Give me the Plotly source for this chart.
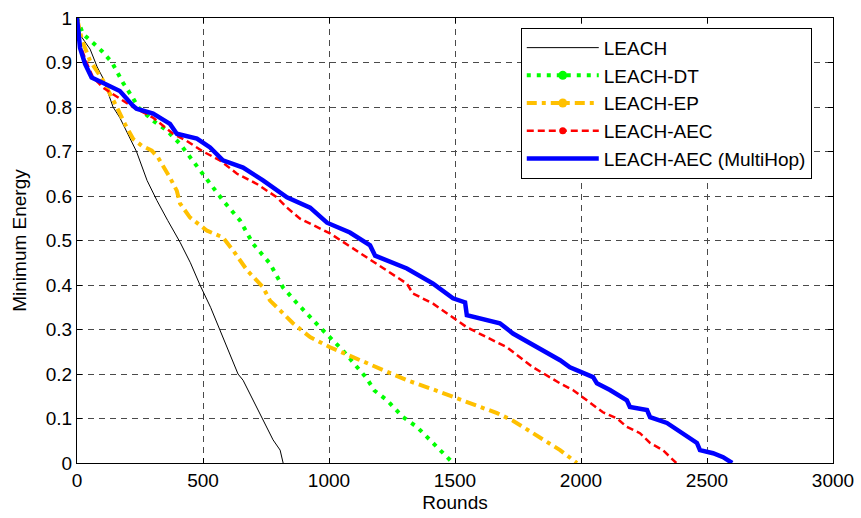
import plotly.graph_objects as go

# ---------------- data ----------------
leach_x = [0, 15, 52, 80, 103, 143, 170, 210, 236, 278, 317, 360, 409, 450, 488, 530,
           567, 600, 639, 659, 700, 734, 760, 778, 806, 817, 818]
leach_y = [1.0, 0.96, 0.93, 0.89, 0.865, 0.80, 0.776, 0.73, 0.70, 0.635, 0.59, 0.545,
           0.496, 0.45, 0.40, 0.35, 0.298, 0.255, 0.20, 0.186, 0.14, 0.103, 0.075,
           0.052, 0.029, 0.007, 0.0]

dt_x = [0, 24, 64, 98, 139, 183, 222, 242, 302, 357, 409, 460, 516, 579, 647, 698, 766,
        817, 873, 964, 1004, 1055, 1150, 1180, 1230, 1294, 1349, 1401, 1452, 1492]
dt_y = [1.0, 0.964, 0.944, 0.926, 0.90, 0.854, 0.82, 0.80, 0.769, 0.747, 0.717, 0.68,
        0.637, 0.59, 0.545, 0.493, 0.448, 0.395, 0.359, 0.305, 0.283, 0.253, 0.19,
        0.163, 0.141, 0.103, 0.081, 0.052, 0.025, 0.0]

ep_x = [0, 20, 52, 104, 158, 190, 223, 257, 297, 322, 369, 396, 409, 448, 516, 579, 619,
        675, 738, 766, 806, 857, 925, 1004, 1095, 1190, 1309, 1400, 1492, 1580, 1667,
        1730, 1810, 1870, 1917, 1984]
ep_y = [1.0, 0.95, 0.904, 0.859, 0.80, 0.762, 0.728, 0.713, 0.702, 0.686, 0.641, 0.612,
        0.583, 0.552, 0.522, 0.507, 0.478, 0.433, 0.395, 0.365, 0.343, 0.314, 0.283,
        0.26, 0.238, 0.215, 0.186, 0.168, 0.148, 0.13, 0.112, 0.095, 0.067, 0.048,
        0.029, 0.0]

aec_x = [0, 12, 40, 64, 104, 170, 222, 302, 381, 435, 500, 567, 635, 714, 793, 833, 885,
         1004, 1150, 1240, 1309, 1333, 1413, 1547, 1620, 1706, 1810, 1917, 1968, 2035,
         2087, 2143, 2182, 2234, 2274, 2325, 2365, 2378]
aec_y = [1.0, 0.94, 0.897, 0.866, 0.843, 0.82, 0.80, 0.776, 0.74, 0.724, 0.70, 0.68,
         0.65, 0.627, 0.597, 0.574, 0.549, 0.516, 0.462, 0.43, 0.403, 0.381, 0.358,
         0.305, 0.285, 0.26, 0.215, 0.179, 0.164, 0.137, 0.114, 0.10, 0.081, 0.067,
         0.045, 0.029, 0.007, 0.0]

mh_x = [0, 12, 32, 58, 104, 143, 170, 222, 236, 302, 369, 396, 476, 528, 579, 659, 738,
        833, 885, 925, 992, 1083, 1163, 1183, 1309, 1413, 1492, 1540, 1547, 1678, 1730,
        1820, 1917, 1956, 2004, 2048, 2063, 2115, 2182, 2194, 2262, 2274, 2341, 2381,
        2420, 2460, 2472, 2524, 2564, 2600]
mh_y = [1.0, 0.933, 0.897, 0.866, 0.854, 0.843, 0.836, 0.803, 0.796, 0.785, 0.762, 0.74,
        0.729, 0.709, 0.68, 0.664, 0.635, 0.597, 0.583, 0.574, 0.54, 0.518, 0.489,
        0.466, 0.437, 0.403, 0.37, 0.361, 0.332, 0.314, 0.291, 0.262, 0.231, 0.215,
        0.204, 0.193, 0.179, 0.164, 0.141, 0.126, 0.119, 0.103, 0.09, 0.074, 0.058,
        0.045, 0.029, 0.022, 0.013, 0.0]

names = ["LEACH", "LEACH-DT", "LEACH-EP", "LEACH-AEC", "LEACH-AEC (MultiHop)"]
x_ticks = [0, 500, 1000, 1500, 2000, 2500, 3000]
y_ticks = [0, 0.1, 0.2, 0.3, 0.4, 0.5, 0.6, 0.7, 0.8, 0.9, 1.0]
y_tick_text = ["0", "0.1", "0.2", "0.3", "0.4", "0.5", "0.6", "0.7", "0.8", "0.9", "1"]

# ---------------- styles ----------------
styles = [
    dict(color="black", width=1, dash="solid", marker=False),
    dict(color="#00FF00", width=4, dash="4px,6px", marker=True),
    dict(color="#FFC000", width=4, dash="11px,5px,4px,5px", marker=True),
    dict(color="#FF0000", width=2.5, dash="7px,4px", marker=True),
    dict(color="#0000FF", width=4.5, dash="solid", marker=False),
]
legend_dash = ["solid", "4px,6px", "10px,5px,4px,5px", "7px,4px", "solid"]
series = [(leach_x, leach_y), (dt_x, dt_y), (ep_x, ep_y), (aec_x, aec_y), (mh_x, mh_y)]

fig = go.Figure()
for (xs, ys), st, nm in zip(series, styles, names):
    fig.add_trace(go.Scatter(x=xs, y=ys, mode="lines", name=nm, showlegend=False,
                             line=dict(color=st["color"], width=st["width"], dash=st["dash"])))
# legend-only entries (with the dot marker as in the reference legend)
for st, nm, ld in zip(styles, names, legend_dash):
    fig.add_trace(go.Scatter(x=[None], y=[None], name=nm,
                             mode="lines+markers" if st["marker"] else "lines",
                             marker=dict(color=st["color"], size=9 if st["width"] > 3 else 7),
                             line=dict(color=st["color"], width=st["width"], dash=ld)))

font_family = "Liberation Sans, Arial, sans-serif"
axis_common = dict(
    showline=True, linecolor="black", linewidth=1, mirror="ticks",
    ticks="inside", ticklen=5, tickcolor="black",
    showgrid=True, gridcolor="#4a4a4a", gridwidth=1, griddash="6px,5px",
    zeroline=False, automargin=False,
    tickfont=dict(family=font_family, size=19, color="black"),
)

fig.update_layout(
    width=861, height=518,
    margin=dict(l=77, r=28, t=18, b=55),
    paper_bgcolor="white", plot_bgcolor="white",
    font=dict(family=font_family, color="black"),
    xaxis=dict(range=[0, 3000], tickvals=x_ticks,
               title=dict(text="Rounds", font=dict(size=19), standoff=5), **axis_common),
    yaxis=dict(range=[0, 1], tickvals=y_ticks, ticktext=y_tick_text,
               title=dict(text="Minimum Energy", font=dict(size=19), standoff=14), **axis_common),
    legend=dict(x=0.587, y=0.978, xanchor="left", yanchor="top",
                bgcolor="white", bordercolor="black", borderwidth=1,
                font=dict(family=font_family, size=19, color="black"),
                itemwidth=72, tracegroupgap=0),
    showlegend=True,
)

fig.write_html("out.html")
